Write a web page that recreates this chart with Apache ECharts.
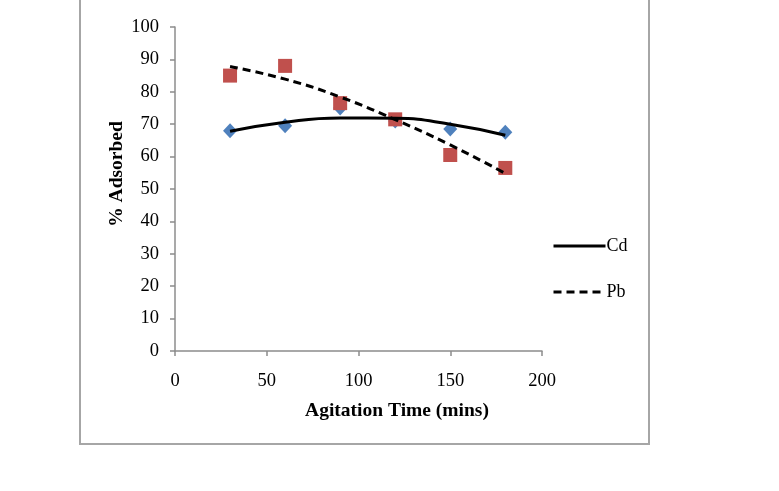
<!DOCTYPE html>
<html>
<head>
<meta charset="UTF-8">
<title>% Adsorbed vs Agitation Time</title>
<style>
  html, body { margin: 0; padding: 0; background: #fff; }
  #chart { width: 779px; height: 491px; }
</style>
</head>
<body>
<div id="chart"></div>
<script src="https://cdn.jsdelivr.net/npm/echarts@6/dist/echarts.min.js"></script>
<script>
// measured points (mins, % adsorbed)
var times = [30, 60, 90, 120, 150, 180];
var cdValues = [68, 69.5, 75, 71, 68.5, 67.5];
var pbValues = [85, 88, 76.5, 71.5, 60.5, 56.5];
// trendline values at the same times
var cdTrend = [67.8, 70.6, 71.9, 71.8, 70.0, 66.6];
var pbTrend = [87.8, 83.9, 78.4, 71.4, 63.6, 54.8];

function pairs(xs, ys) {
  var out = [];
  for (var i = 0; i < xs.length; i++) out.push([xs[i], ys[i]]);
  return out;
}

var chart = echarts.init(document.getElementById('chart'));
var font = '"Liberation Serif", "Times New Roman", serif';
var axisGrey = '#8c8c8c';

var option = {
  animation: false,
  backgroundColor: '#fff',
  textStyle: { fontFamily: font },
  grid: { left: 175, top: 27, right: 237, bottom: 140, containLabel: false },
  graphic: [{
    type: 'rect',
    shape: { x: 80, y: -10, width: 569, height: 454 },
    style: { fill: 'none', stroke: '#a6a6a6', lineWidth: 2 },
    z: -1
  }],
  legend: {
    orient: 'vertical',
    left: 547,
    top: 232,
    itemWidth: 52,
    itemHeight: 10,
    itemGap: 28,
    data: ['Cd', 'Pb'],
    itemStyle: { color: 'transparent', borderWidth: 0, opacity: 0 },
    lineStyle: { width: 3, color: '#000' },
    textStyle: { fontFamily: font, fontSize: 18, color: '#000', padding: [0, 0, 0, -4] }
  },
  xAxis: {
    type: 'value',
    min: 0, max: 200, interval: 50,
    name: 'Agitation Time (mins)',
    nameLocation: 'middle',
    nameGap: 50,
    nameTextStyle: { fontFamily: font, fontSize: 19.5, fontWeight: 'bold', color: '#000', padding: [0, 0, 0, 77] },
    axisLine: { show: true, lineStyle: { color: axisGrey, width: 1.5 } },
    axisTick: { show: true, length: 5, lineStyle: { color: axisGrey, width: 1.5 } },
    axisLabel: { fontFamily: font, fontSize: 18.5, color: '#000', margin: 21 },
    splitLine: { show: false }
  },
  yAxis: {
    type: 'value',
    min: 0, max: 100, interval: 10,
    name: '% Adsorbed',
    nameLocation: 'middle',
    nameGap: 48,
    nameTextStyle: { fontFamily: font, fontSize: 19.5, fontWeight: 'bold', color: '#000', padding: [0, 0, 0, 30] },
    axisLine: { show: true, lineStyle: { color: axisGrey, width: 1.5 } },
    axisTick: { show: true, length: 5, lineStyle: { color: axisGrey, width: 1.5 } },
    axisLabel: { fontFamily: font, fontSize: 18.5, color: '#000', margin: 16 },
    splitLine: { show: false }
  },
  series: [
    {
      name: 'Cd data',
      type: 'scatter',
      symbol: 'diamond',
      symbolSize: [14, 15],
      itemStyle: { color: '#4f81bd', opacity: 1 },
      data: pairs(times, cdValues),
      z: 2
    },
    {
      name: 'Pb data',
      type: 'scatter',
      symbol: 'rect',
      symbolSize: 14,
      itemStyle: { color: '#c0504d', opacity: 1 },
      data: pairs(times, pbValues),
      z: 2
    },
    {
      name: 'Cd',
      type: 'line',
      smooth: true,
      showSymbol: false,
      symbol: 'none',
      lineStyle: { color: '#000', width: 3 },
      itemStyle: { color: '#000' },
      data: pairs(times, cdTrend),
      z: 3
    },
    {
      name: 'Pb',
      type: 'line',
      smooth: true,
      showSymbol: false,
      symbol: 'none',
      lineStyle: { color: '#000', width: 3, type: [8, 5] },
      itemStyle: { color: '#000' },
      data: pairs(times, pbTrend),
      z: 3
    }
  ]
};

chart.setOption(option);
</script>
</body>
</html>
